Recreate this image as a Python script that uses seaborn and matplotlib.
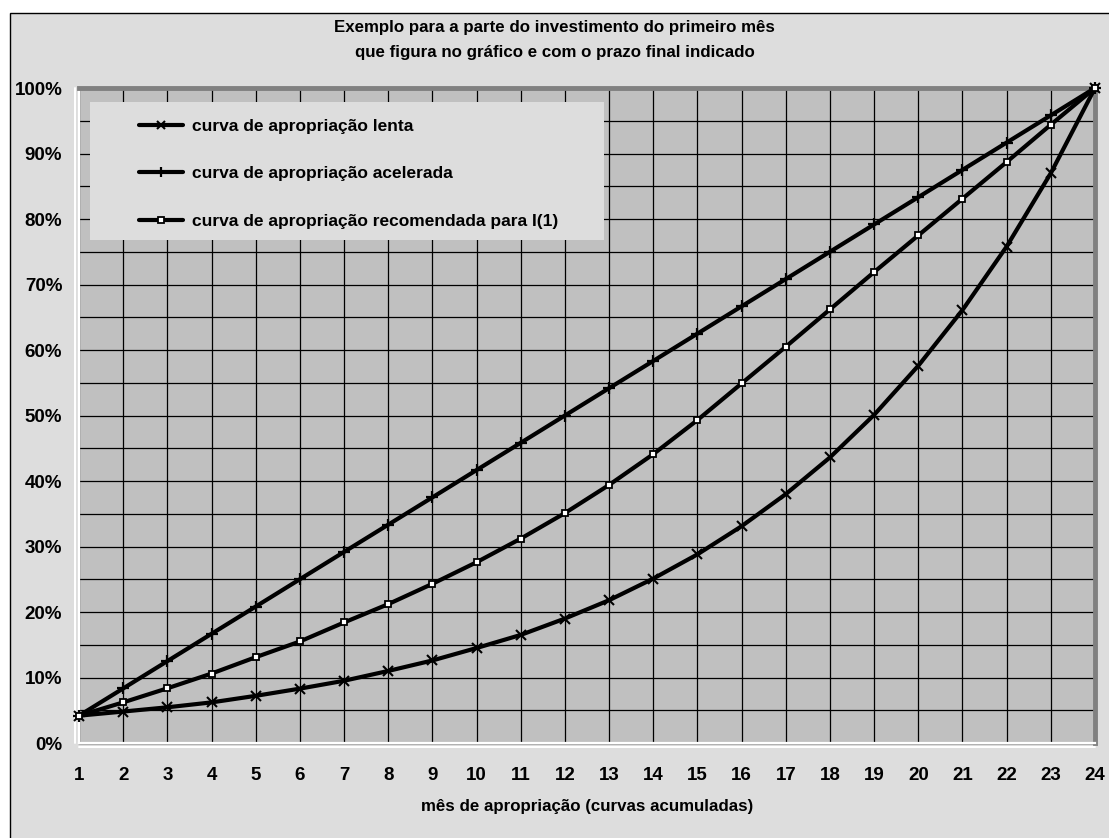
import matplotlib
matplotlib.use("Agg")
import matplotlib.pyplot as plt
from matplotlib.patches import Rectangle
from matplotlib.lines import Line2D
from matplotlib.ticker import MultipleLocator, FuncFormatter
import matplotlib.transforms as mtransforms
import pandas as pd
import seaborn as sns

# Months of the appropriation schedule
meses = list(range(1, 25))

# Cumulative share (%) for each curve
lenta = [4.17, 4.8, 5.45, 6.2, 7.2, 8.3, 9.5, 11.0, 12.6, 14.5, 16.5, 19.0,
         21.8, 25.1, 28.8, 33.1, 38.0, 43.6, 50.1, 57.6, 66.1, 75.8, 87.0, 100.0]
acelerada = [4.17, 8.33, 12.5, 16.67, 20.83, 25.0, 29.17, 33.33, 37.5, 41.67, 45.83, 50.0,
             54.17, 58.33, 62.5, 66.67, 70.83, 75.0, 79.17, 83.33, 87.5, 91.67, 95.83, 100.0]
recomendada = [4.17, 6.2, 8.35, 10.6, 13.1, 15.5, 18.4, 21.2, 24.3, 27.6, 31.2, 35.1,
               39.4, 44.1, 49.3, 54.9, 60.5, 66.2, 71.9, 77.5, 83.1, 88.7, 94.4, 100.0]

rotulos = ["curva de apropriação lenta",
           "curva de apropriação acelerada",
           "curva de apropriação recomendada para I(1)"]
titulo = "Exemplo para a parte do investimento do primeiro mês\nque figura no gráfico e com o prazo final indicado"
rotulo_x = "mês de apropriação (curvas acumuladas)"

sns.set_style("white")
plt.rcParams["font.family"] = ["Liberation Sans", "DejaVu Sans"]
plt.rcParams["font.weight"] = "bold"
plt.rcParams["text.color"] = "black"
plt.rcParams["axes.labelcolor"] = "black"

W, H = 1109, 838
fig = plt.figure(figsize=(W / 100, H / 100), dpi=100, facecolor="white")

# Chart area panel with a thin black border
fig.patches.append(Rectangle((10 / W, -0.05), 1.1, (H - 13) / H + 0.05,
                             transform=fig.transFigure, facecolor="#DDDDDD",
                             edgecolor="black", linewidth=1.0, zorder=-10))

x0, x1 = 79, 1095
y0, y1 = 88, 743
ax = fig.add_axes([x0 / W, (H - y1) / H, (x1 - x0) / W, (y1 - y0) / H])
ax.set_facecolor("#C0C0C0")
ax.set_zorder(1)

df = pd.DataFrame({"mes": meses, "lenta": lenta,
                   "acelerada": acelerada, "recomendada": recomendada})

estilos = [
    ("lenta", "x", 7.0, 1.5, "black"),
    ("acelerada", "+", 8.5, 1.6, "black"),
    ("recomendada", "s", 5.0, 1.3, "white"),
]
for col, mk, ms, mew, face in estilos:
    sns.lineplot(data=df, x="mes", y=col, ax=ax, color="black", linewidth=3.0,
                 estimator=None, sort=False, clip_on=False, zorder=5,
                 marker=mk, markersize=ms, markeredgewidth=mew,
                 markeredgecolor="black", markerfacecolor=face)

ax.set_xlim(1, 24)
ax.set_ylim(0, 100)
ax.xaxis.set_major_locator(MultipleLocator(1))
ax.yaxis.set_major_locator(MultipleLocator(10))
ax.yaxis.set_minor_locator(MultipleLocator(5))
ax.yaxis.set_major_formatter(FuncFormatter(lambda v, p: f"{v:.0f}%"))

ax.grid(True, which="major", axis="both", color="black", linewidth=0.9)
ax.grid(True, which="minor", axis="y", color="black", linewidth=0.9)
ax.set_axisbelow(True)

for s in ("top", "right"):
    ax.spines[s].set_color("#808080")
    ax.spines[s].set_linewidth(3.5)
for s in ("left", "bottom"):
    ax.spines[s].set_color("white")
    ax.spines[s].set_linewidth(1.6)

# Second, outer rule along the left and bottom axes (double-line look)
off_b = mtransforms.offset_copy(ax.transAxes, fig=fig, x=0, y=-4, units="dots")
off_l = mtransforms.offset_copy(ax.transAxes, fig=fig, x=-4, y=0, units="dots")
ax.add_line(Line2D([0, 1], [0, 0], transform=ax.transAxes, color="#A8A8A8",
                   linewidth=2.2, clip_on=False, zorder=0.5))
ax.add_line(Line2D([0, 1], [0, 0], transform=off_b, color="white",
                   linewidth=1.4, clip_on=False, zorder=0.6))
ax.add_line(Line2D([0, 0], [0, 1], transform=off_l, color="white",
                   linewidth=1.4, clip_on=False, zorder=0.6))

ax.tick_params(axis="both", which="major", direction="inout", length=10, width=1.5,
               color="white", labelsize=13.5, labelcolor="black")
ax.tick_params(axis="y", which="minor", direction="inout", length=6, width=1.5,
               color="white")
ax.tick_params(axis="y", which="major", pad=7)
ax.tick_params(axis="x", which="major", pad=12)
for lab in ax.get_xticklabels() + ax.get_yticklabels():
    lab.set_fontweight("bold")

ax.set_xlabel(rotulo_x, fontsize=12.2, fontweight="bold", labelpad=11)
ax.set_ylabel("")

fig.suptitle(titulo, x=0.5, y=1 - 40 / H, va="center", fontsize=12.2,
             fontweight="bold", linespacing=1.85)

# Legend on its own light panel, drawn above the plot area
leg_box = Rectangle((90 / W, 1 - 240 / H), (604 - 90) / W, (240 - 102) / H,
                    transform=fig.transFigure, facecolor="#DDDDDD",
                    edgecolor="none", zorder=3)
fig.patches.append(leg_box)
handles = [Line2D([], [], color="black", linewidth=3.0, marker=mk,
                  markersize=ms * 0.8, markeredgewidth=mew,
                  markeredgecolor="black", markerfacecolor=face)
           for _, mk, ms, mew, face in estilos]
leg = fig.legend(handles, rotulos, loc="upper left",
                 bbox_to_anchor=(139 / W, 1 - 119 / H), frameon=False,
                 prop=dict(size=12.5, weight="bold"), labelspacing=1.85,
                 handlelength=2.53, handletextpad=0.52, borderpad=0,
                 borderaxespad=0)
leg.set_zorder(10)

fig.savefig("out.png", dpi=100, facecolor="white")
